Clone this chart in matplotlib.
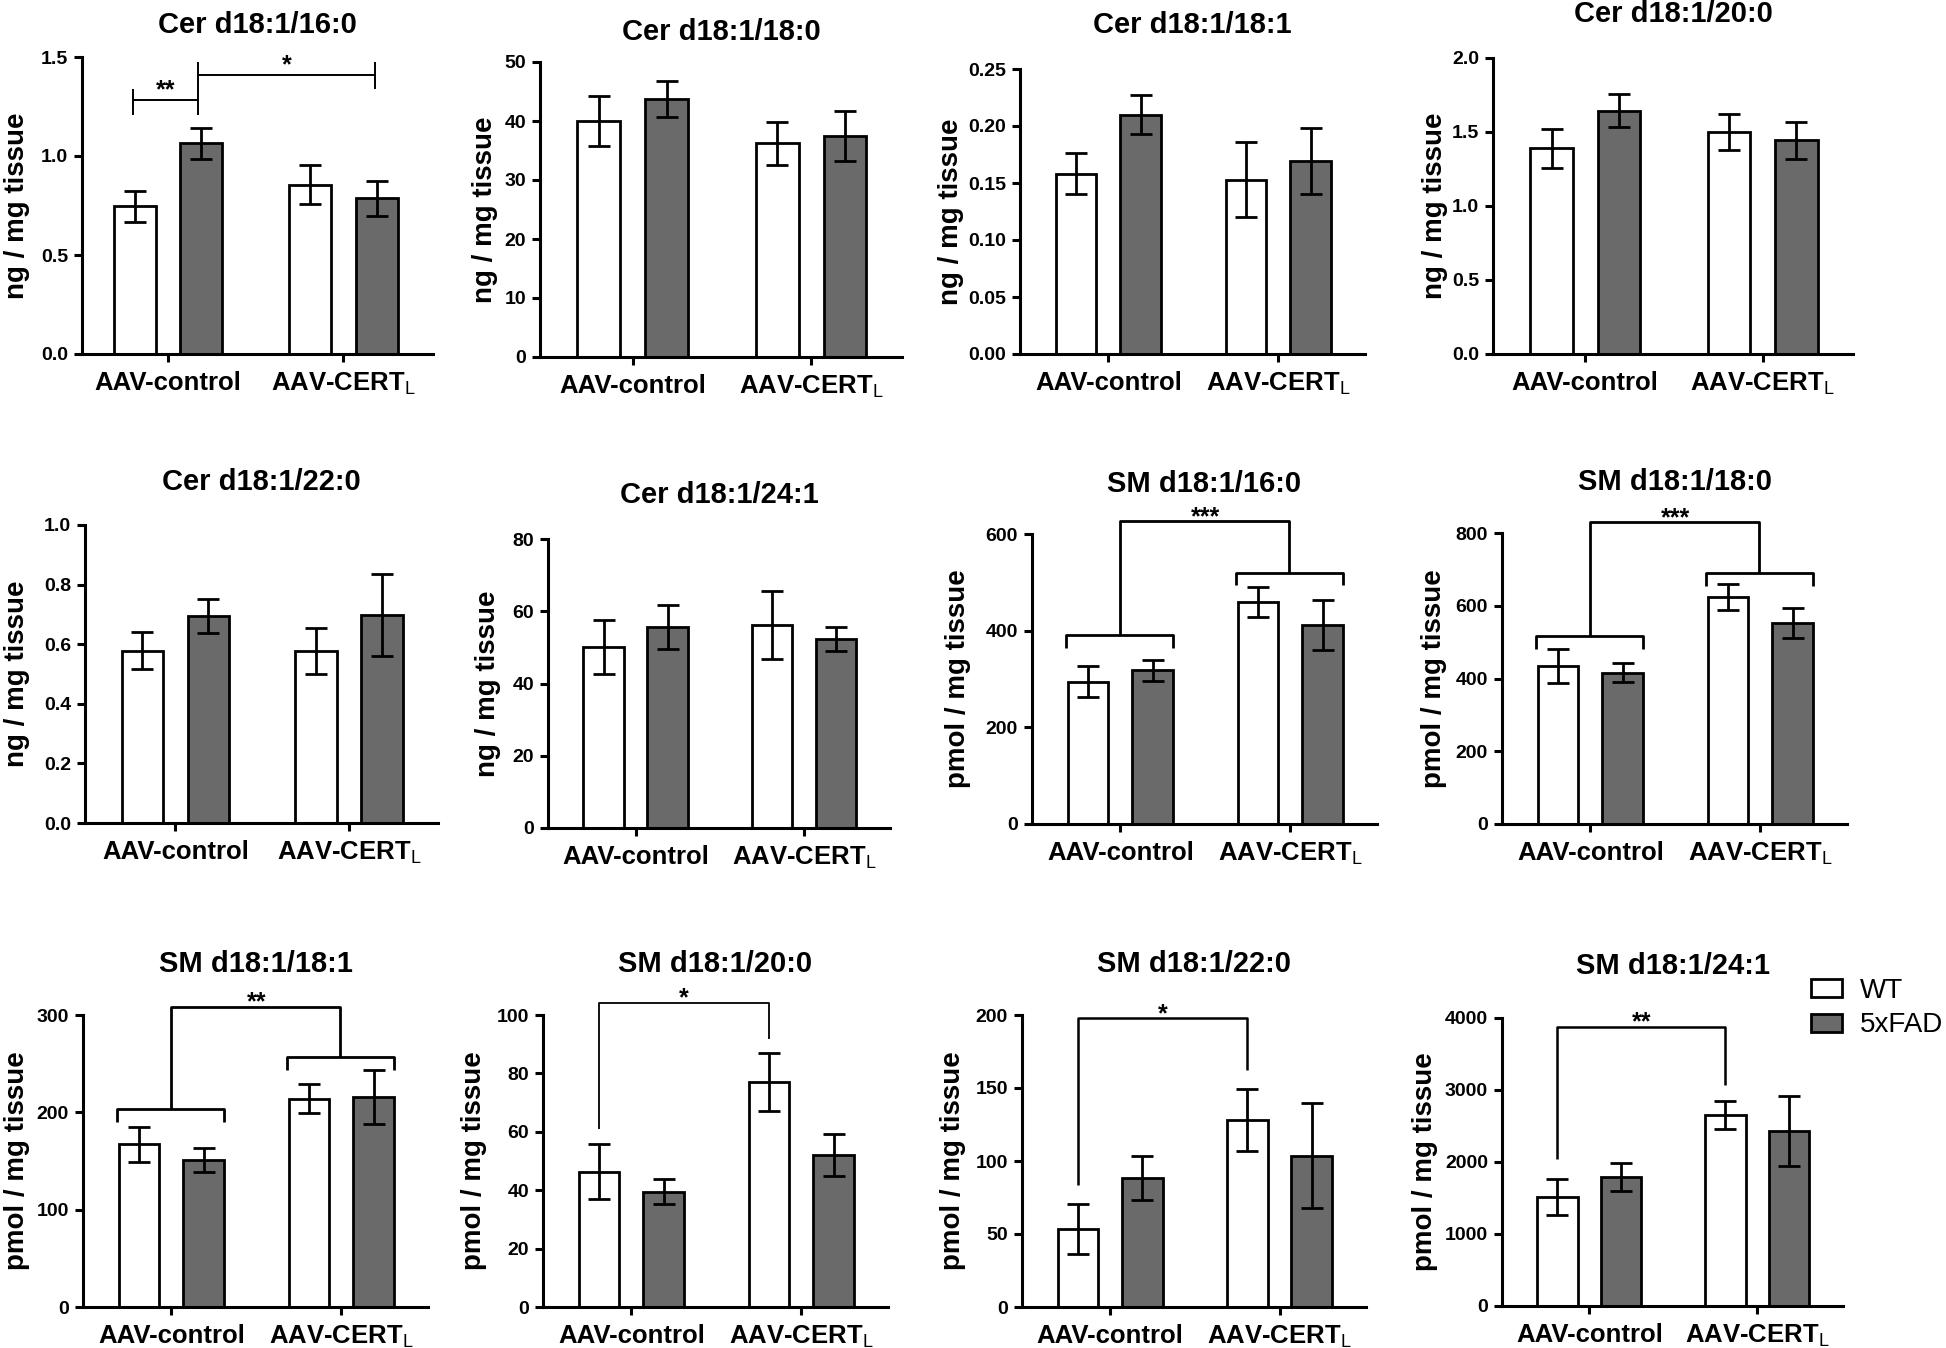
import matplotlib
matplotlib.use("Agg")
import matplotlib.pyplot as plt
from matplotlib.patches import Patch

plt.rcParams['font.family'] = ['Liberation Sans', 'DejaVu Sans']
plt.rcParams['mathtext.fontset'] = 'custom'
plt.rcParams['mathtext.rm'] = 'Liberation Sans:weight=normal'

W, H = 1946, 1348

groups = ["AAV-control", r"AAV-CERT$_\mathrm{L}$"]
series = ["WT", "5xFAD"]

titles = ["Cer d18:1/16:0", "Cer d18:1/18:0", "Cer d18:1/18:1", "Cer d18:1/20:0",
          "Cer d18:1/22:0", "Cer d18:1/24:1", "SM d18:1/16:0", "SM d18:1/18:0",
          "SM d18:1/18:1", "SM d18:1/20:0", "SM d18:1/22:0", "SM d18:1/24:1"]
units = ["ng / mg tissue"] * 6 + ["pmol / mg tissue"] * 6

# mean values: [control, CERT] per panel
wt_mean = [[0.745, 0.856], [40.0, 36.2], [0.158, 0.153], [1.39, 1.50],
           [0.578, 0.578], [50.0, 56.2], [294, 459], [435, 624],
           [167, 214], [46.4, 77.1], [53.5, 128], [1514, 2657]]
wt_err = [[0.08, 0.10], [4.2, 3.6], [0.018, 0.033], [0.13, 0.12],
          [0.062, 0.078], [7.5, 9.3], [32, 31], [47, 35],
          [18, 15], [9.3, 10], [17, 21], [250, 197]]
fad_mean = [[1.065, 0.786], [43.7, 37.5], [0.210, 0.169], [1.645, 1.445],
            [0.693, 0.697], [55.6, 52.4], [318, 412], [416, 552],
            [151, 216], [39.5, 52.0], [88.5, 103.5], [1792, 2432]]
fad_err = [[0.078, 0.087], [3.1, 4.2], [0.017, 0.029], [0.112, 0.125],
           [0.057, 0.138], [6.0, 3.3], [22, 51], [26, 42],
           [12, 28], [4.3, 7.2], [15, 36], [197, 490]]

yticks = [[0, 0.5, 1.0, 1.5], [0, 10, 20, 30, 40, 50], [0, 0.05, 0.10, 0.15, 0.20, 0.25],
          [0, 0.5, 1.0, 1.5, 2.0], [0, 0.2, 0.4, 0.6, 0.8, 1.0], [0, 20, 40, 60, 80],
          [0, 200, 400, 600], [0, 200, 400, 600, 800], [0, 100, 200, 300],
          [0, 20, 40, 60, 80, 100], [0, 50, 100, 150, 200], [0, 1000, 2000, 3000, 4000]]
ytick_fmt = ["%.1f", "%d", "%.2f", "%.1f", "%.1f", "%d", "%d", "%d", "%d", "%d", "%d", "%d"]

# panel frames in pixels: left, right, y of zero, y of top tick
frames = [(82, 433, 354, 57), (540, 902, 357, 62), (1020, 1365, 354, 69), (1493, 1853, 354, 58),
          (85, 438, 823, 525), (548, 890, 828, 539), (1032, 1377, 824, 534), (1502, 1847, 824, 533),
          (83, 428, 1307, 1015), (543, 888, 1307, 1015), (1022, 1366, 1307, 1015), (1502, 1843, 1306, 1018)]
title_base = [33, 40, 33, 22, 490, 503, 492, 490, 972, 972, 972, 974]
ylabel_x = [17, 485, 951, 1435, 17, 488, 958, 1434, 17, 474, 953, 1425]

off, bw = 0.19, 0.24
dark = "#6a6a6a"

fig = plt.figure(figsize=(W / 100, H / 100), dpi=100)
axes = []
for i in range(12):
    l, r, y0, yt = frames[i]
    ax = fig.add_axes([l / W, 1 - y0 / H, (r - l) / W, (y0 - yt) / H])
    axes.append(ax)
    x = [0, 1]
    ax.bar([v - off for v in x], wt_mean[i], bw, color="white", edgecolor="black", linewidth=2, zorder=2)
    ax.bar([v + off for v in x], fad_mean[i], bw, color=dark, edgecolor="black", linewidth=2, zorder=2)
    ax.errorbar([v - off for v in x], wt_mean[i], yerr=wt_err[i], fmt="none", ecolor="black",
                elinewidth=2, capsize=8, capthick=2, zorder=3)
    ax.errorbar([v + off for v in x], fad_mean[i], yerr=fad_err[i], fmt="none", ecolor="black",
                elinewidth=2, capsize=8, capthick=2, zorder=3)
    ax.set_xlim(-0.52 if i else -0.49, 1.51)
    ax.set_ylim(0, yticks[i][-1])
    ax.set_xticks(x)
    ax.set_xticklabels(groups, fontsize=18.5, fontweight="bold")
    ax.set_yticks(yticks[i])
    ax.set_yticklabels([ytick_fmt[i] % t for t in yticks[i]], fontsize=14, fontweight="bold")
    for s in ["top", "right"]:
        ax.spines[s].set_visible(False)
    for s in ["left", "bottom"]:
        ax.spines[s].set_linewidth(2.2)
    ax.tick_params(axis="both", width=2.2, length=6)
    ax.tick_params(axis="y", pad=4)
    ax.tick_params(axis="x", pad=6)
    fig.text(ylabel_x[i] / W, 1 - (y0 + yt) / 2 / H, units[i], rotation=90, ha="center",
             va="center", fontsize=20, fontweight="bold")
    ax.set_title(titles[i], fontsize=21, fontweight="bold", pad=(yt - title_base[i]) * 0.72)


def star(ax, x, y, s):
    ax.annotate(s, xy=(x, y), xytext=(0, -2), textcoords="offset points", ha="center",
                va="baseline", fontsize=18, fontweight="bold", annotation_clip=False)


def line(ax, xs, ys, lw):
    ax.plot(xs, ys, color="black", lw=lw, clip_on=False, solid_capstyle="butt", zorder=4)


# Cer d18:1/16:0
ax = axes[0]
line(ax, [-0.2, 0.17], [1.281, 1.281], 1.4)
line(ax, [-0.2, -0.2], [1.206, 1.340], 1.4)
line(ax, [0.17, 0.17], [1.206, 1.475], 1.4)
line(ax, [0.17, 1.18], [1.407, 1.407], 1.4)
line(ax, [1.18, 1.18], [1.340, 1.475], 1.4)
star(ax, -0.015, 1.31, "**")
star(ax, 0.675, 1.435, "*")

# group brackets (SM 16:0, 18:0, 18:1)
group_br = {6: (392, 364, 519, 494, 626), 7: (516, 482, 690, 654, 830), 8: (203, 190, 257, 243, 308.6)}
for i, (c0, c0e, c1, c1e, top) in group_br.items():
    ax = axes[i]
    line(ax, [-0.32, -0.32, 0.31, 0.31], [c0e, c0, c0, c0e], 2)
    line(ax, [0.68, 0.68, 1.31, 1.31], [c1e, c1, c1, c1e], 2)
    line(ax, [0.0, 0.0, 0.99, 0.99], [c0, top, top, c1], 2)
    star(ax, 0.5, top, "***" if i < 8 else "**")

# WT control vs WT CERT
pair_br = {9: (104.2, 60.8, 91.7, 1.3, "*"), 10: (197.7, 83.9, 162.3, 1.8, "*"),
           11: (3875, 2046, 3074, 1.8, "**")}
for i, (top, le, re, lw, s) in pair_br.items():
    ax = axes[i]
    line(ax, [-0.19, -0.19, 0.81, 0.81], [le, top, top, re], lw)
    star(ax, 0.31, top, s)

handles = [Patch(facecolor="white", edgecolor="black", linewidth=2),
           Patch(facecolor=dark, edgecolor="black", linewidth=2)]
fig.legend(handles, series, loc="upper left", bbox_to_anchor=(1811 / W, 1 - 978 / H),
           frameon=False, fontsize=20, handlelength=1.1, handleheight=0.62,
           handletextpad=0.65, labelspacing=0.3, borderpad=0, borderaxespad=0)

fig.savefig("out.png", dpi=100)
